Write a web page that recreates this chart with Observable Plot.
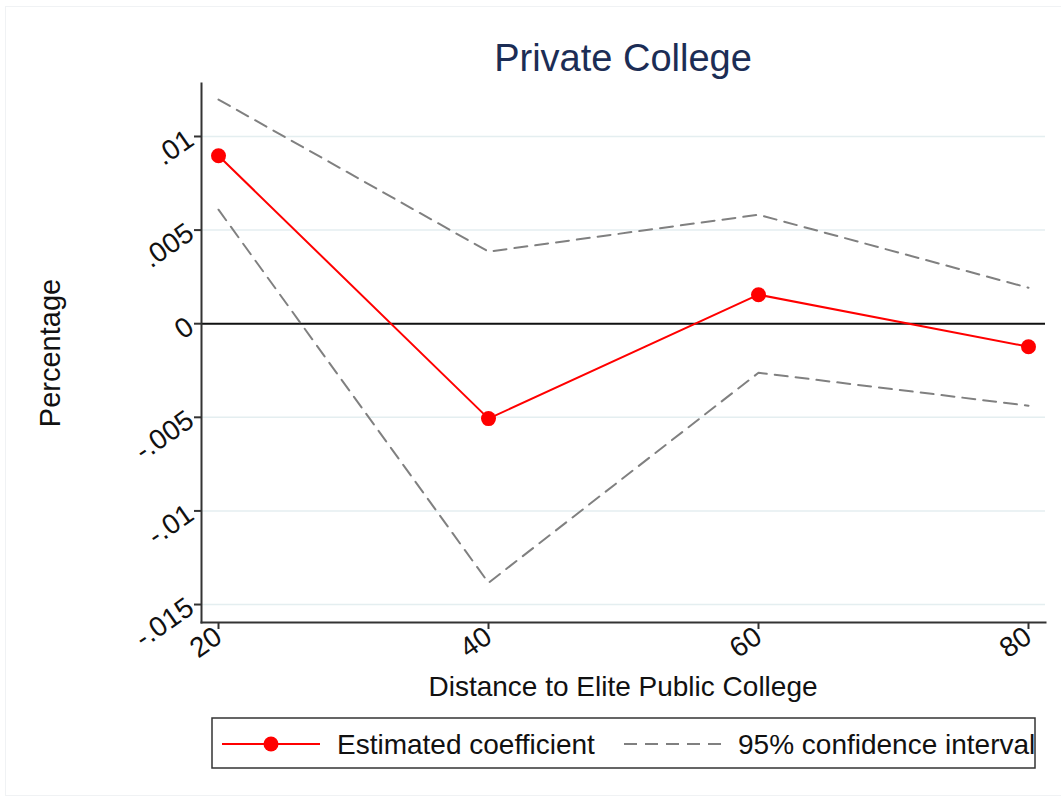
<!DOCTYPE html>
<html><head><meta charset="utf-8">
<script src="https://cdn.jsdelivr.net/npm/d3@7"></script>
<script src="https://cdn.jsdelivr.net/npm/@observablehq/plot@0.6"></script>
<style>
body{margin:0;background:#fff;font-family:"Liberation Sans",Arial,sans-serif;}
#wrap{position:relative;width:1061px;height:804px;overflow:hidden;}
#outer{position:absolute;left:5px;top:6px;width:1060px;height:790px;border:1px solid #f0f2f4;box-sizing:border-box;}
#title{position:absolute;left:201px;width:844px;top:36px;text-align:center;font-size:38px;color:#1c2d55;line-height:44px;}
#ylab{position:absolute;left:50px;top:353px;transform:translate(-50%,-50%) rotate(-90deg);font-size:29px;white-space:nowrap;color:#111;}
#xlab{position:absolute;left:201px;width:844px;top:671px;text-align:center;font-size:28px;color:#111;line-height:32px;}
#legend{position:absolute;left:211px;top:717px;}
#chart{position:absolute;left:0;top:0;}
</style></head><body>
<div id="wrap">
<div id="outer"></div>
<div id="chart"></div>
<div id="title"></div>
<div id="ylab"></div>
<div id="xlab"></div>
<div id="legend"></div>
</div>
<script>
const distances = [20, 40, 60, 80];
const estimate = [0.00897, -0.00507, 0.00155, -0.00123];
const upperCI = [0.01197, 0.00385, 0.00582, 0.00192];
const lowerCI = [0.00609, -0.01384, -0.00262, -0.00438];
const yTicks = [-0.015, -0.01, -0.005, 0, 0.005, 0.01];
const yTickLabels = ["-.015", "-.01", "-.005", "0", ".005", ".01"];
const xTicks = [20, 40, 60, 80];
const titleText = "Private College";
const xLabel = "Distance to Elite Public College";
const yLabel = "Percentage";
const legendLabels = ["Estimated coefficient", "95% confidence interval"];

const est = distances.map((d, i) => ({x: d, y: estimate[i]}));
const up = distances.map((d, i) => ({x: d, y: upperCI[i]}));
const lo = distances.map((d, i) => ({x: d, y: lowerCI[i]}));

const xDomain = [18.74, 81.26];
const yDomain = [-0.01596, 0.01283];

const plot = Plot.plot({
  width: 1061,
  height: 700,
  marginTop: 83,
  marginLeft: 201,
  marginRight: 16,
  marginBottom: 78,
  style: {fontFamily: '"Liberation Sans", Arial, sans-serif', fontSize: "28px", color: "#111", background: "transparent"},
  x: {domain: xDomain},
  y: {domain: yDomain},
  marks: [
    Plot.ruleY(yTicks, {stroke: "#e4eef0", strokeWidth: 1.5}),
    Plot.ruleY([0], {stroke: "#111", strokeWidth: 2}),
    Plot.line(up, {x: "x", y: "y", stroke: "#808080", strokeWidth: 2, strokeDasharray: "13,8"}),
    Plot.line(lo, {x: "x", y: "y", stroke: "#808080", strokeWidth: 2, strokeDasharray: "13,8"}),
    Plot.line(est, {x: "x", y: "y", stroke: "#ff0000", strokeWidth: 2}),
    Plot.dot(est, {x: "x", y: "y", r: 7.5, fill: "#ff0000", stroke: "none"}),
    Plot.axisY(yTicks, {tickFormat: d => yTickLabels[yTicks.indexOf(d)], tickRotate: -35, tickSize: 7, tickPadding: 4, stroke: "#333", strokeWidth: 2, label: null, fill: "#111"}),
    Plot.axisX(xTicks, {tickRotate: -35, tickSize: 7, tickPadding: 4, stroke: "#333", strokeWidth: 2, label: null, fill: "#111"}),
    Plot.frame({anchor: "left", stroke: "#333", strokeWidth: 2}),
    Plot.frame({anchor: "bottom", stroke: "#333", strokeWidth: 2})
  ]
});
document.getElementById("chart").appendChild(plot);
document.getElementById("title").textContent = titleText;
document.getElementById("xlab").textContent = xLabel;
document.getElementById("ylab").textContent = yLabel;

// legend
const lg = d3.select("#legend").append("svg").attr("width", 826).attr("height", 53);
lg.append("rect").attr("x", 1).attr("y", 1).attr("width", 823).attr("height", 50)
  .attr("fill", "#fff").attr("stroke", "#333").attr("stroke-width", 1.5);
lg.append("line").attr("x1", 11).attr("x2", 109).attr("y1", 27).attr("y2", 27).attr("stroke", "#ff0000").attr("stroke-width", 2);
lg.append("circle").attr("cx", 60).attr("cy", 27).attr("r", 7.5).attr("fill", "#ff0000");
lg.append("text").attr("x", 126).attr("y", 37).text(legendLabels[0])
  .attr("font-size", 28).attr("fill", "#111").attr("font-family", '"Liberation Sans", Arial, sans-serif');
lg.append("line").attr("x1", 413).attr("x2", 511).attr("y1", 27).attr("y2", 27).attr("stroke", "#808080").attr("stroke-width", 2).attr("stroke-dasharray", "13,8");
lg.append("text").attr("x", 527).attr("y", 37).text(legendLabels[1])
  .attr("font-size", 28).attr("fill", "#111").attr("font-family", '"Liberation Sans", Arial, sans-serif');
</script>
</body></html>
